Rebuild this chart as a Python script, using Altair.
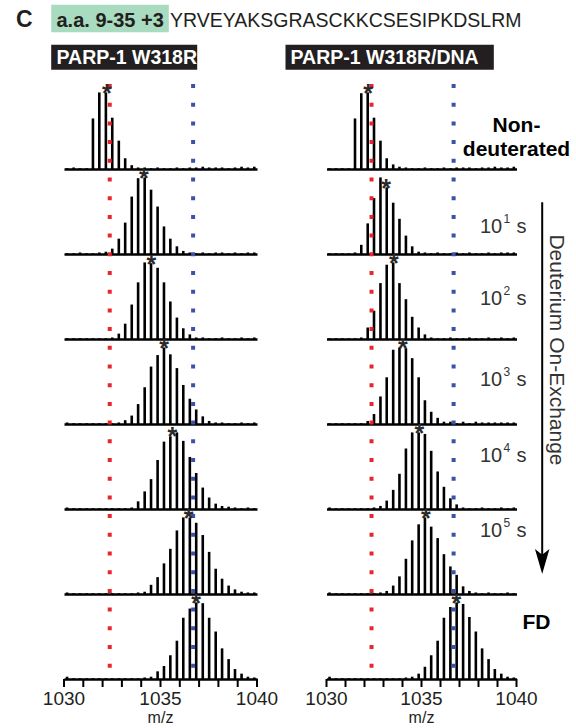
import altair as alt
import pandas as pd

# ---------------- data ----------------
iso_mz = [1030.16, 1030.50, 1030.83, 1031.17, 1031.50, 1031.83, 1032.17, 1032.50,
          1032.84, 1033.17, 1033.51, 1033.84, 1034.18, 1034.51, 1034.85, 1035.18,
          1035.51, 1035.85, 1036.18, 1036.52, 1036.85, 1037.19, 1037.52, 1037.86,
          1038.19, 1038.53, 1038.86, 1039.20, 1039.53, 1039.86]

left_spectra = [
    [1, 2, 1, 1, 66, 100, 100, 67, 37, 14, 5, 2, 2, 1, 2, 1, 1, 2, 1, 2, 2, 3, 2, 2, 2, 1, 2, 3, 2, 3],
    [1, 1, 2, 1, 1, 2, 3, 7, 20, 41, 75, 99, 100, 84, 62, 36, 20, 10, 4, 2, 1, 2, 1, 2, 2, 1, 2, 1, 2, 2],
    [1, 1, 1, 1, 1, 1, 1, 2, 7, 20, 45, 74, 100, 99, 93, 74, 49, 28, 14, 6, 2, 2, 1, 1, 2, 1, 1, 2, 1, 2],
    [2, 1, 1, 1, 1, 1, 1, 1, 2, 5, 11, 26, 48, 75, 90, 100, 91, 73, 51, 33, 19, 10, 4, 2, 2, 1, 1, 2, 1, 2],
    [2, 1, 1, 1, 1, 1, 1, 1, 1, 1, 2, 10, 23, 39, 64, 88, 95, 100, 89, 68, 47, 28, 15, 7, 4, 3, 2, 1, 2, 1],
    [2, 1, 1, 1, 1, 1, 1, 1, 1, 1, 1, 2, 3, 12, 22, 40, 59, 83, 100, 100, 93, 77, 55, 33, 20, 11, 6, 3, 2, 2],
    [3, 1, 1, 1, 1, 1, 1, 1, 1, 1, 1, 1, 2, 3, 10, 17, 31, 50, 80, 92, 100, 99, 80, 62, 40, 26, 13, 7, 3, 2],
]
right_spectra = [
    [1, 1, 1, 1, 66, 99, 100, 67, 37, 14, 6, 3, 2, 1, 1, 2, 1, 1, 2, 1, 2, 2, 2, 1, 2, 2, 3, 2, 2, 3],
    [1, 1, 1, 1, 2, 12, 40, 73, 100, 87, 67, 46, 24, 10, 3, 2, 1, 2, 1, 1, 2, 1, 2, 1, 1, 2, 1, 2, 2, 2],
    [1, 1, 1, 1, 1, 2, 15, 37, 73, 97, 100, 73, 52, 29, 15, 6, 2, 1, 1, 2, 1, 1, 2, 1, 1, 2, 1, 2, 1, 2],
    [1, 1, 1, 1, 1, 1, 4, 13, 36, 61, 97, 100, 99, 86, 61, 31, 16, 8, 3, 3, 1, 3, 1, 3, 2, 2, 2, 2, 2, 2],
    [2, 1, 1, 1, 1, 1, 1, 2, 4, 11, 25, 46, 79, 100, 100, 98, 76, 49, 29, 14, 6, 2, 1, 1, 2, 1, 1, 2, 1, 2],
    [2, 1, 1, 1, 1, 1, 1, 1, 2, 4, 11, 23, 46, 70, 91, 100, 88, 73, 52, 36, 25, 10, 4, 2, 1, 2, 1, 1, 2, 1],
    [3, 1, 1, 1, 1, 1, 1, 1, 1, 1, 1, 1, 2, 3, 7, 16, 31, 50, 80, 94, 100, 98, 81, 62, 40, 26, 13, 7, 3, 2],
]

left_star_mz = [1032.22, 1034.14, 1034.52, 1035.19, 1035.62, 1036.45, 1036.85]
left_star_h = [100, 100, 99, 100, 97, 100, 100]
right_star_mz = [1032.19, 1033.14, 1033.54, 1034.02, 1034.89, 1035.23, 1036.84]
right_star_h = [100, 87, 100, 100, 100, 100, 100]

red_mz = 1032.37
blue_mz = 1036.69

panel_letter = "C"
peptide_id = "a.a. 9-35 +3"
sequence = "YRVEYAKSGRASCKKCSESIPKDSLRM"
col_titles = ["PARP-1 W318R", "PARP-1 W318R/DNA"]
nd_label = ["Non-", "deuterated"]
time_exponents = ["1", "2", "3", "4", "5"]
fd_label = "FD"
side_label = "Deuterium On-Exchange"
x_title = "m/z"
x_ticks = [1030, 1031, 1032, 1033, 1034, 1035, 1036, 1037, 1038, 1039, 1040]
x_labels = [1030, 1035, 1040]

# ---------------- layout / style ----------------
FONT = "Liberation Sans"
INK = "#231f20"
RED = "#e8262d"
BLUE = "#3a53a4"
PANEL_H = 85
WIDTHS = [193, 190]
X_DOM = [1030, 1040]
Y_DOM = [0, 111]
DOT_PERIOD = 18.7
time_baselines = [64, 51, 47, 38, 28]   # px below panel top for rows 2..6


def one(text=""):
    return alt.Chart(pd.DataFrame({"t": [text]}))


def txt(text, x, y, size, weight="normal", color=INK, align="left",
        baseline="alphabetic", angle=0):
    return one(text).mark_text(
        align=align, baseline=baseline, fontSize=size, fontWeight=weight,
        color=color, font=FONT, angle=angle
    ).encode(x=alt.value(x), y=alt.value(y), text="t:N")


def box(x1, x2, y1, y2, color, opacity=1.0):
    return one().mark_rect(color=color, opacity=opacity).encode(
        x=alt.value(x1), x2=alt.value(x2), y=alt.value(y1), y2=alt.value(y2))


def panel(col, r):
    spectra = left_spectra if col == 0 else right_spectra
    star_mz = left_star_mz if col == 0 else right_star_mz
    star_h = left_star_h if col == 0 else right_star_h
    df = pd.DataFrame({"mz": iso_mz, "inten": spectra[r]})
    axis = alt.Axis(labels=False, ticks=False, domainColor="black",
                    domainWidth=2.6, title=None, grid=False)
    xs = alt.Scale(domain=X_DOM, nice=False, zero=False)
    ys = alt.Scale(domain=Y_DOM, nice=False)
    bars = alt.Chart(df).mark_rule(color="black", strokeWidth=2.6).encode(
        x=alt.X("mz:Q", scale=xs, axis=axis),
        y=alt.Y("inten:Q", scale=ys, axis=None),
        y2=alt.Y2Datum(0),
    )
    off = (r * PANEL_H) % DOT_PERIOD
    lines = []
    for mzv, colr in ((red_mz, RED), (blue_mz, BLUE)):
        lines.append(one().mark_rule(color=colr, strokeWidth=4, strokeDash=[4, DOT_PERIOD - 4],
                                     strokeCap="butt", strokeDashOffset=off).encode(
            x=alt.XDatum(mzv), y=alt.YDatum(Y_DOM[1]), y2=alt.Y2Datum(0)))
    star = alt.Chart(pd.DataFrame({"mz": [star_mz[r]], "h": [star_h[r]]})).mark_text(
        text="*", fontSize=25, fontWeight="bold", color="#2a2a2a", font=FONT,
        baseline="alphabetic", dy=10).encode(x=alt.X("mz:Q", title=None), y=alt.Y("h:Q", title=None))
    layers = [bars] + lines + [star]

    if r == 6:
        layers += [
            alt.Chart(pd.DataFrame({"tick": x_ticks})).mark_rule(color="black", strokeWidth=2).encode(
                x=alt.X("tick:Q", title=None), y=alt.value(PANEL_H), y2=alt.value(PANEL_H + 8)),
            alt.Chart(pd.DataFrame({"tick": x_labels})).mark_text(
                fontSize=19, font=FONT, color=INK, align="center", baseline="alphabetic").encode(
                x=alt.X("tick:Q", title=None), y=alt.value(110.5),
                text=alt.Text("tick:Q", format="d")),
            one(x_title).mark_text(fontSize=16, font=FONT, color=INK, align="center",
                                   baseline="alphabetic").encode(
                x=alt.XDatum(1035), y=alt.value(129), text="t:N"),
        ]

    if col == 0 and r == 0:
        layers += [
            box(-63.5, 0, -84, 0, "white", opacity=0),
            txt(panel_letter, -48, -56.7, 23, "bold"),
            box(-12.8, 104.8, -79.3, -51.7, "#a8dbbf"),
            txt(peptide_id, -7.5, -56.7, 20, "bold"),
            txt(sequence, 106, -56.7, 19.5),
            box(-12.8, 133.2, -39.3, -14.3, INK),
            txt(col_titles[0], -7.5, -20, 19.5, "bold", color="white"),
            box(221.5, 429.8, -39.3, -14.3, INK),
            txt(col_titles[1], 226.5, -20, 19.5, "bold", color="white"),
        ]
    if col == 1:
        if r == 0:
            layers += [txt(nd_label[0], 190, 48.3, 21, "bold", align="center", color="black"),
                       txt(nd_label[1], 190, 72.3, 21, "bold", align="center", color="black")]
        elif r <= 5:
            b = time_baselines[r - 1]
            layers += [txt("10", 175.7, b, 20, align="right", color="#333333"),
                       txt(time_exponents[r - 1], 177, b - 10, 12, color="#333333"),
                       txt("s", 190, b, 20, color="#333333")]
        else:
            layers += [txt(fd_label, 196, 35, 21, "bold", color="black")]
        if r == 1:
            layers += [
                one().mark_rule(color="black", strokeWidth=2).encode(
                    x=alt.value(215.7), y=alt.value(33.3), y2=alt.value(386)),
                one().mark_point(shape="M0,1L-0.58,-1L0,-0.55L0.58,-1Z", size=625,
                                 filled=True, color="black", opacity=1, strokeWidth=0).encode(
                    x=alt.value(215.7), y=alt.value(392.5)),
                txt(side_label, 229, 181, 21, align="center", baseline="middle",
                    angle=90, color="#333333"),
            ]
    return alt.layer(*layers).properties(width=WIDTHS[col], height=PANEL_H)


panels = []
for r in range(7):
    panels.append(panel(0, r))
    panels.append(panel(1, r))

chart = alt.concat(
    *panels, columns=2, spacing={"row": 0, "column": 69.5}, bounds="flush",
    padding={"left": 0, "top": 0, "right": 0, "bottom": 0},
).configure(font=FONT, view=alt.ViewConfig(stroke=None))

chart.save("out.html", embed_options={"renderer": "svg", "actions": False})
